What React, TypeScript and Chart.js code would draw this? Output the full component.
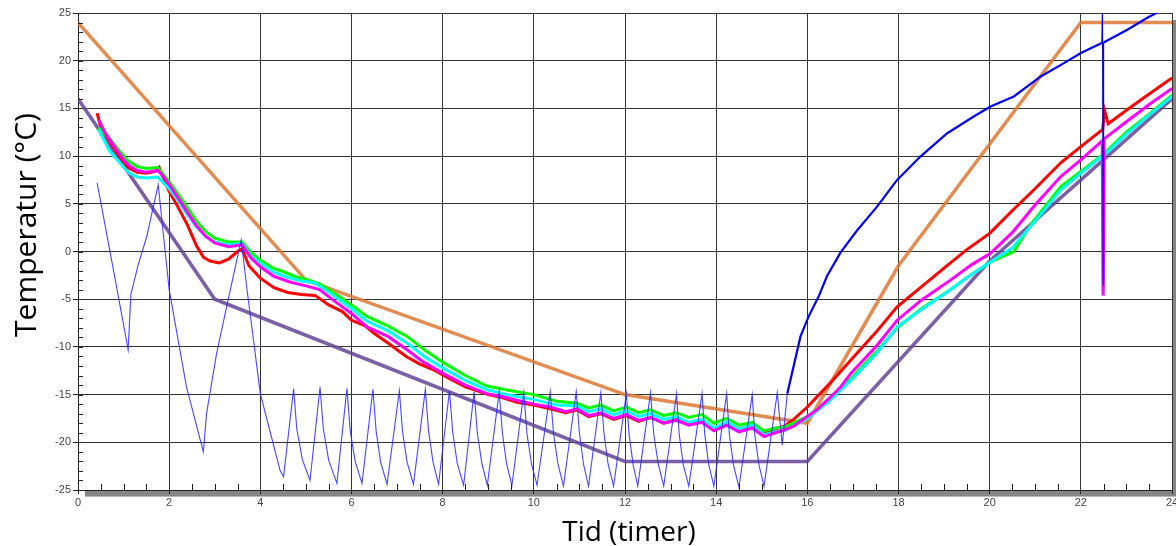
import React, { useEffect, useRef } from 'react';
import { Chart, registerables } from 'chart.js';

Chart.register(...registerables);

// ---- axis ticks ----
const hourTicks = [0, 2, 4, 6, 8, 10, 12, 14, 16, 18, 20, 22, 24];
const tempTicks = [-25, -20, -15, -10, -5, 0, 5, 10, 15, 20, 25];
const hourMinorTicks = [0.5, 1, 1.5, 2.5, 3, 3.5, 4.5, 5, 5.5, 6.5, 7, 7.5, 8.5, 9, 9.5, 10.5, 11, 11.5, 12.5, 13, 13.5, 14.5, 15, 15.5, 16.5, 17, 17.5, 18.5, 19, 19.5, 20.5, 21, 21.5, 22.5, 23, 23.5];
const tempMinorTicks = [-24, -23, -22, -21, -19, -18, -17, -16, -14, -13, -12, -11, -9, -8, -7, -6, -4, -3, -2, -1, 1, 2, 3, 4, 6, 7, 8, 9, 11, 12, 13, 14, 16, 17, 18, 19, 21, 22, 23, 24];

const xTitle = 'Tid (timer)';
const yTitle = 'Temperatur (°C)';

// ---- series: [hours, °C] ----
const orangeProfile: [number, number][] = [
  [0, 24], [5, -3], [12, -15], [16, -18], [18, -1.5], [22, 24], [24, 24],
];

const purpleProfile: [number, number][] = [
  [0, 16], [3, -5], [12, -22], [16, -22], [20, -1], [24, 16],
];

const blueSensor: [number, number][] = [
  [0.42, 7.2], [0.8, -2.5], [1.1, -10.3], [1.16, -4.5], [1.32, -1.4], [1.51, 1.6], [1.76, 7.0],
  [1.84, 3.3], [2.0, -4.0], [2.38, -14.2], [2.75, -21.0], [2.82, -17.0], [3.04, -10.7], [3.26, -5.8],
  [3.58, 1.2], [3.7, -3.7], [4.0, -14.9], [4.43, -22.9], [4.51, -23.6],
  [4.73, -14.4], [4.8, -18.6], [4.92, -21.8], [5.09, -24.0],
  [5.31, -14.2], [5.38, -18.5], [5.5, -21.9], [5.68, -24.3],
  [5.9, -14.35], [5.97, -18.7], [6.08, -22.0], [6.23, -24.3],
  [6.47, -14.45], [6.54, -18.8], [6.64, -22.1], [6.78, -24.4],
  [7.05, -14.6], [7.12, -18.9], [7.22, -22.1], [7.36, -24.4],
  [7.62, -14.45], [7.69, -18.8], [7.79, -22.1], [7.91, -24.4],
  [8.15, -14.6], [8.22, -18.9], [8.32, -22.2], [8.46, -24.5],
  [8.69, -14.7], [8.76, -19.0], [8.86, -22.2], [8.98, -24.5],
  [9.24, -14.7], [9.31, -19.0], [9.4, -22.2], [9.52, -24.5],
  [9.78, -14.8], [9.85, -19.1], [9.95, -22.3], [10.07, -24.5],
  [10.36, -14.7], [10.43, -19.0], [10.53, -22.3], [10.65, -24.6],
  [10.93, -14.7], [11.0, -19.0], [11.09, -22.3], [11.2, -24.6],
  [11.47, -14.8], [11.54, -19.1], [11.63, -22.3], [11.75, -24.6],
  [12.03, -14.9], [12.09, -19.2], [12.18, -22.4], [12.28, -24.6],
  [12.56, -14.8], [12.63, -19.1], [12.73, -22.3], [12.85, -24.6],
  [13.13, -14.9], [13.19, -19.2], [13.28, -22.4], [13.4, -24.6],
  [13.69, -14.9], [13.75, -19.2], [13.84, -22.4], [13.95, -24.6],
  [14.23, -14.9], [14.29, -19.2], [14.38, -22.4], [14.5, -24.7],
  [14.79, -15.0], [14.85, -19.3], [14.94, -22.4], [15.05, -24.6],
  [15.34, -14.8], [15.45, -20.3], [15.56, -14.9], [15.85, -8.9], [16.03, -6.8], [16.25, -4.7],
  [16.43, -2.6], [16.73, -0.1], [17.09, 2.2], [17.53, 4.7], [17.97, 7.5], [18.48, 9.95],
  [19.07, 12.4], [19.65, 14.15], [20.02, 15.2], [20.53, 16.25], [21.12, 18.35], [21.63, 19.75],
  [22.0, 20.8], [22.46, 21.85], [22.475, 26], [22.49, -3.5], [22.5, 21.9], [23.02, 23.25],
  [23.46, 24.5], [23.97, 25.8],
];

const redSensor: [number, number][] = [
  [0.42, 14.5], [0.5, 13.0], [0.7, 11.5], [0.9, 10.0], [1.1, 8.8], [1.3, 8.3], [1.5, 8.2], [1.7, 8.4],
  [1.78, 8.8], [1.85, 8.0], [2.0, 6.3], [2.2, 4.6], [2.4, 2.8], [2.6, 0.6], [2.75, -0.6], [2.9, -1.0],
  [3.1, -1.2], [3.3, -0.8], [3.5, 0.0], [3.6, 0.3], [3.75, -1.5], [4.0, -2.8], [4.3, -3.8], [4.6, -4.3],
  [4.9, -4.5], [5.2, -4.6], [5.5, -5.6], [5.8, -6.3], [6.0, -7.2], [6.3, -7.8], [6.5, -8.6], [6.8, -9.6],
  [7.2, -11.0], [7.5, -11.8], [7.8, -12.4], [8.1, -13.2], [8.5, -14.2], [9.0, -15.0], [9.3, -15.3],
  [9.63, -15.8], [10.0, -16.1], [10.36, -16.5], [10.7, -16.9], [10.95, -16.6], [11.2, -17.3],
  [11.47, -17.0], [11.75, -17.6], [12.03, -17.2], [12.3, -17.8], [12.56, -17.4], [12.85, -18.0],
  [13.13, -17.6], [13.4, -18.1], [13.69, -17.7], [13.95, -18.6], [14.23, -18.0], [14.5, -18.6],
  [14.79, -18.2], [15.05, -19.0], [15.3, -18.6], [15.5, -18.3], [15.7, -17.6], [16.0, -16.3],
  [16.5, -13.8], [16.95, -11.4], [17.5, -8.5], [17.97, -5.8], [18.5, -3.7], [19.14, -1.2],
  [19.5, 0.2], [20.0, 1.9], [20.5, 4.3], [21.0, 6.6], [21.56, 9.3], [22.0, 11.0], [22.48, 12.8],
  [22.52, 14.8], [22.6, 13.4], [23.0, 14.8], [23.5, 16.5], [24.0, 18.2],
];

const greenSensor: [number, number][] = [
  [0.45, 13.0], [0.7, 11.8], [0.9, 10.6], [1.1, 9.5], [1.3, 8.9], [1.5, 8.7], [1.75, 8.8], [2.0, 7.3],
  [2.2, 6.0], [2.4, 4.6], [2.6, 3.2], [2.8, 2.1], [3.0, 1.4], [3.3, 1.0], [3.6, 1.0], [3.8, -0.1],
  [4.0, -0.9], [4.3, -1.8], [4.5, -2.1], [4.8, -2.7], [5.0, -2.9], [5.3, -3.4], [5.6, -4.3],
  [6.0, -5.6], [6.34, -6.8], [6.8, -7.8], [7.22, -8.9], [7.6, -10.3], [8.0, -11.6], [8.5, -13.0],
  [8.97, -14.1], [9.5, -14.6], [10.0, -15.0], [10.5, -15.7], [10.95, -15.9], [11.2, -16.4],
  [11.47, -16.1], [11.75, -16.7], [12.03, -16.3], [12.3, -16.9], [12.56, -16.6], [12.85, -17.2],
  [13.13, -16.9], [13.4, -17.4], [13.69, -17.1], [13.95, -18.0], [14.23, -17.5], [14.5, -18.2],
  [14.79, -17.9], [15.05, -18.8], [15.3, -18.5], [15.5, -18.4], [16.0, -17.3], [16.5, -15.5],
  [17.0, -13.1], [17.5, -10.6], [17.97, -8.0], [18.5, -6.0], [19.14, -4.0], [19.6, -2.4],
  [20.02, -1.1], [20.53, 0.0], [20.9, 2.8], [21.56, 6.8], [22.0, 8.4], [22.5, 10.2], [23.0, 12.5],
  [23.5, 14.4], [24.0, 16.4],
];

const cyanSensor: [number, number][] = [
  [0.45, 12.8], [0.7, 10.5], [0.9, 9.4], [1.1, 8.3], [1.3, 7.8], [1.5, 7.7], [1.75, 7.8], [2.0, 6.6],
  [2.2, 5.3], [2.4, 3.9], [2.6, 2.6], [2.8, 1.6], [3.0, 1.0], [3.3, 0.7], [3.6, 0.8], [3.8, -0.5],
  [4.0, -1.2], [4.3, -2.2], [4.6, -2.7], [4.9, -3.1], [5.2, -3.3], [5.6, -4.6], [6.0, -6.0],
  [6.34, -7.3], [6.8, -8.3], [7.22, -9.6], [7.6, -11.0], [8.0, -12.2], [8.5, -13.5], [8.97, -14.5],
  [9.5, -15.1], [10.0, -15.5], [10.5, -16.1], [10.95, -16.2], [11.2, -16.8], [11.47, -16.5],
  [11.75, -17.1], [12.03, -16.7], [12.3, -17.3], [12.56, -17.0], [12.85, -17.6], [13.13, -17.3],
  [13.4, -17.9], [13.69, -17.6], [13.95, -18.5], [14.23, -17.9], [14.5, -18.6], [14.79, -18.2],
  [15.05, -19.2], [15.3, -18.9], [15.5, -18.8], [16.0, -17.5], [16.5, -15.6], [17.0, -13.3],
  [17.5, -10.8], [17.97, -7.9], [18.5, -6.1], [19.14, -4.0], [19.6, -2.4], [20.02, -1.1],
  [20.5, 0.4], [21.0, 3.2], [21.56, 6.45], [22.0, 8.2], [22.47, 10.0], [22.49, -4.6], [22.51, 10.1],
  [23.0, 12.3], [23.5, 14.3], [24.0, 16.25],
];

const magentaSensor: [number, number][] = [
  [0.45, 13.8], [0.6, 12.4], [0.8, 11.0], [1.0, 9.6], [1.15, 8.9], [1.3, 8.5], [1.5, 8.3], [1.75, 8.5],
  [1.85, 8.0], [2.0, 7.0], [2.2, 5.6], [2.4, 4.1], [2.6, 2.7], [2.8, 1.6], [3.0, 0.9], [3.3, 0.5],
  [3.6, 0.7], [3.8, -0.7], [4.0, -1.6], [4.3, -2.6], [4.65, -3.2], [5.0, -3.6], [5.3, -4.0],
  [5.6, -5.1], [6.0, -6.5], [6.34, -7.9], [6.8, -8.9], [7.22, -10.3], [7.58, -11.6], [8.02, -12.8],
  [8.5, -14.0], [8.97, -14.9], [9.3, -15.2], [9.63, -15.6], [10.0, -16.0], [10.36, -16.3],
  [10.7, -16.8], [10.95, -16.5], [11.2, -17.2], [11.47, -16.9], [11.75, -17.5], [12.03, -17.1],
  [12.3, -17.7], [12.56, -17.4], [12.85, -18.0], [13.13, -17.7], [13.4, -18.2], [13.69, -17.9],
  [13.95, -18.8], [14.23, -18.2], [14.5, -18.9], [14.79, -18.5], [15.05, -19.4], [15.3, -19.0],
  [15.5, -18.7], [15.7, -18.3], [16.0, -17.3], [16.21, -16.6], [16.5, -15.3], [16.73, -14.2],
  [16.95, -12.8], [17.5, -10.0], [17.97, -7.2], [18.5, -5.1], [19.14, -3.0], [19.6, -1.4],
  [20.02, -0.2], [20.5, 2.0], [21.0, 4.9], [21.56, 7.85], [22.0, 9.6], [22.47, 11.6], [22.49, -4.6],
  [22.51, 11.8], [23.0, 13.6], [23.5, 15.4], [24.0, 17.1],
];

// hour after which the blue sensor trace becomes a dense (thicker) rising trace
const blueRiseStart = 15.5;

const toPoints = (arr: [number, number][]) => arr.map(([x, y]) => ({ x, y }));

const framePlugin = {
  id: 'frameDecor',
  beforeDraw(chart: any) {
    const { ctx, chartArea: a } = chart;
    ctx.save();
    ctx.fillStyle = '#858585';
    ctx.fillRect(a.left + 7, a.top + 7, chart.width - a.left, a.bottom - a.top);
    ctx.fillRect(a.left + 7, a.bottom, chart.width - a.left, 6);
    ctx.fillStyle = '#b8b8b8';
    ctx.fillRect(a.left + 7, a.bottom + 6, chart.width - a.left, 1);
    ctx.fillStyle = '#ffffff';
    ctx.fillRect(a.left, a.top, a.right - a.left, a.bottom - a.top);
    ctx.restore();
  },
  afterDraw(chart: any) {
    const { ctx, chartArea: a, scales } = chart;
    const xs = scales.x;
    const ys = scales.y;
    ctx.save();
    ctx.strokeStyle = '#222';
    ctx.lineWidth = 1;
    ctx.beginPath();
    for (const v of tempMinorTicks.concat(tempTicks)) {
      const y = Math.round(ys.getPixelForValue(v)) + 0.5;
      ctx.moveTo(a.left, y);
      ctx.lineTo(a.left + 5, y);
    }
    for (const v of hourMinorTicks) {
      const x = Math.round(xs.getPixelForValue(v)) + 0.5;
      ctx.moveTo(x, a.bottom);
      ctx.lineTo(x, a.bottom - 6);
    }
    ctx.stroke();

    ctx.fillStyle = '#000';
    ctx.font = '28px "Open Sans"';
    ctx.textAlign = 'center';
    ctx.textBaseline = 'alphabetic';
    ctx.fillText(xTitle, 629, 541);

    ctx.save();
    ctx.translate(36, 225);
    ctx.rotate(-Math.PI / 2);
    ctx.font = '30px "Open Sans"';
    ctx.fillText(yTitle, 0, 0);
    ctx.restore();
    ctx.restore();
  },
};

export default function App() {
  const canvasRef = useRef<HTMLCanvasElement | null>(null);

  useEffect(() => {
    const canvas = canvasRef.current;
    if (!canvas) return;
    const line = (data: [number, number][], color: string, width: number, order: number, extra: any = {}) => ({
      data: toPoints(data),
      borderColor: color,
      backgroundColor: color,
      borderWidth: width,
      pointRadius: 0,
      showLine: true,
      tension: 0,
      fill: false,
      order,
      ...extra,
    });
    const chart = new Chart(canvas, {
      type: 'scatter',
      data: {
        datasets: [
          line(blueSensor, 'rgba(20,20,255,0.9)', 1.1, 0, {
            segment: {
              borderWidth: (c: any) => (c.p0.parsed.x >= blueRiseStart && c.p1.parsed.x - c.p0.parsed.x > 0.02 ? 2.2 : 1.1),
              borderColor: (c: any) => (c.p0.parsed.x >= blueRiseStart ? '#0000ee' : 'rgba(40,40,255,0.85)'),
            },
          }),
          line(magentaSensor, '#ff00ff', 3, 1),
          line(cyanSensor, '#00ffff', 3, 2),
          line(greenSensor, '#00ff00', 3, 3),
          line(redSensor, '#ff0000', 3, 4),
          line(orangeProfile, 'rgba(222,120,52,0.85)', 3.5, 5),
          line(purpleProfile, 'rgba(100,68,150,0.85)', 3.5, 6),
        ] as any,
      },
      plugins: [framePlugin],
      options: {
        animation: false,
        responsive: false,
        devicePixelRatio: 1,
        layout: { padding: { top: 13, right: 4, left: 0, bottom: 0 } },
        plugins: { legend: { display: false }, tooltip: { enabled: false } },
        scales: {
          x: {
            type: 'linear',
            min: 0,
            max: 24,
            afterBuildTicks: (scale: any) => {
              scale.ticks = hourTicks.map((v) => ({ value: v }));
            },
            afterFit: (scale: any) => {
              scale.height = 56;
              scale.paddingLeft = 0;
              scale.paddingRight = 0;
            },
            ticks: {
              autoSkip: false,
              maxRotation: 0,
              padding: 2,
              color: '#444',
              font: { family: '"Liberation Sans", Arial, sans-serif', size: 11 },
            },
            grid: { color: '#333', lineWidth: 1, tickLength: 4, tickColor: '#222', drawTicks: true },
            border: { display: true, color: '#222', width: 1 },
          },
          y: {
            type: 'linear',
            min: -25,
            max: 25,
            afterBuildTicks: (scale: any) => {
              scale.ticks = tempTicks.map((v) => ({ value: v }));
            },
            afterFit: (scale: any) => {
              scale.width = 78;
              scale.paddingTop = 0;
              scale.paddingBottom = 0;
            },
            ticks: {
              autoSkip: false,
              padding: 2,
              color: '#444',
              font: { family: '"Liberation Sans", Arial, sans-serif', size: 11 },
            },
            grid: { color: '#333', lineWidth: 1, tickLength: 5, tickColor: '#222', drawTicks: true },
            border: { display: true, color: '#222', width: 1 },
          },
        },
      },
    });
    return () => chart.destroy();
  }, []);

  return (
    <div style={{ position: 'absolute', left: 0, top: 0, width: 1176, height: 546, background: '#fff' }}>
      <canvas ref={canvasRef} width={1176} height={546} style={{ display: 'block' }} />
    </div>
  );
}
